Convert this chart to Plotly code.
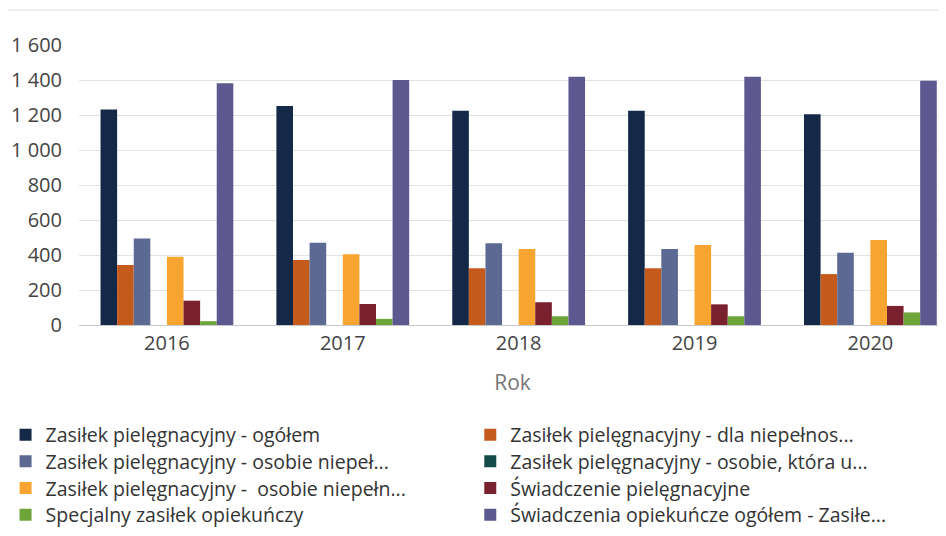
import plotly.graph_objects as go

years = ["2016", "2017", "2018", "2019", "2020"]

# series (order as drawn inside each year group)
ogolem = [1232, 1251, 1225, 1225, 1204]
dla_niepelnos = [343, 371, 324, 324, 291]
osobie_niepel = [495, 470, 467, 434, 413]
osobie_ktora = [0, 0, 0, 0, 0]
osobie_niepeln = [390, 404, 434, 457, 486]
swiadczenie_piel = [139, 120, 130, 118, 109]
specjalny = [22, 35, 50, 50, 72]
opiekuncze_ogolem = [1381, 1400, 1419, 1419, 1396]

names = [
    "Zasiłek pielęgnacyjny - ogółem",
    "Zasiłek pielęgnacyjny - dla niepełnos...",
    "Zasiłek pielęgnacyjny - osobie niepeł...",
    "Zasiłek pielęgnacyjny - osobie, która u...",
    "Zasiłek pielęgnacyjny -  osobie niepełn...",
    "Świadczenie pielęgnacyjne",
    "Specjalny zasiłek opiekuńczy",
    "Świadczenia opiekuńcze ogółem - Zasiłe...",
]
values = [ogolem, dla_niepelnos, osobie_niepel, osobie_ktora,
          osobie_niepeln, swiadczenie_piel, specjalny, opiekuncze_ogolem]
colors = ["#142847", "#c45a1c", "#5b6993", "#134a4a",
          "#f7a530", "#7a2130", "#6ea53a", "#5d5890"]

# legend laid out as a 2-column grid, one legend box per entry
col_x = [-0.0847, 0.4513]
row_y = [-0.393, -0.488, -0.583, -0.679]

fig = go.Figure()
legends = {}
font_main = "Open Sans, DejaVu Sans, sans-serif"
for i, (name, vals, color) in enumerate(zip(names, values, colors)):
    lg = "legend" if i == 0 else f"legend{i + 1}"
    fig.add_trace(go.Bar(
        x=years, y=vals, name=name,
        marker=dict(color=color, line=dict(width=0)),
        legend=lg, showlegend=True,
    ))
    legends[lg] = dict(
        x=col_x[i % 2], y=row_y[i // 2],
        xanchor="left", yanchor="middle", orientation="v",
        font=dict(family=font_main, size=19.5, color="#333333"),
        bgcolor="rgba(0,0,0,0)",
    )

# page has an 8px body margin, so the figure is 8px smaller each way
fig.update_layout(
    width=938, height=528,
    showlegend=True,
    margin=dict(l=70.5, r=0, t=37, b=211, autoexpand=False),
    paper_bgcolor="white", plot_bgcolor="white",
    barmode="group", bargap=0.245, bargroupgap=0,
    separators=", ",
    font=dict(family=font_main, color="#444444"),
    xaxis=dict(
        type="category", range=[-0.5, 4.43],
        showgrid=False, showline=False, ticks="",
        tickfont=dict(size=20, color="#444444"),
        ticklabelstandoff=4,
        title=dict(text="Rok", font=dict(size=21, color="#777777"), standoff=20),
    ),
    yaxis=dict(
        range=[0, 1600], dtick=200, tickformat=",d",
        showgrid=True, gridcolor="#e2e2e2", gridwidth=1,
        zeroline=True, zerolinecolor="#c8c8c8", zerolinewidth=1,
        tickfont=dict(size=20, color="#444444"),
        ticklabelstandoff=16,
    ),
    shapes=[dict(type="line", xref="paper", yref="paper",
                 x0=-0.1, x1=1, y0=1.125, y1=1.125,
                 line=dict(color="#dddddd", width=1))],
    **legends,
)

fig.write_html("out.html")
